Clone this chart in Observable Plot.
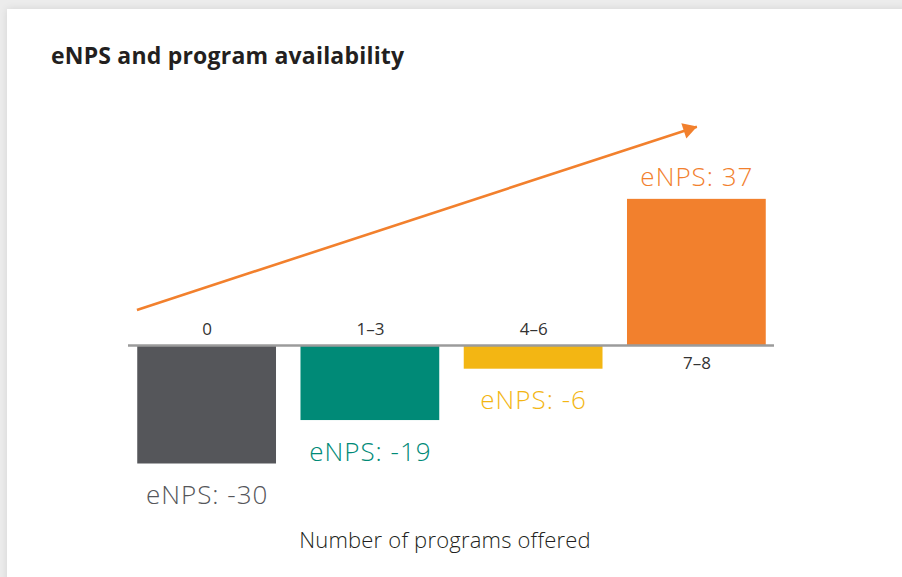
<!DOCTYPE html>
<html>
<head>
<meta charset="utf-8">
<script src="https://cdn.jsdelivr.net/npm/d3@7"></script>
<script src="https://cdn.jsdelivr.net/npm/@observablehq/plot@0.6"></script>
<style>
  html, body { margin: 0; padding: 0; }
  body { width: 902px; height: 577px; background: #ececec; position: relative; overflow: hidden; font-family: 'Open Sans', sans-serif; }
  #card { position: absolute; left: 7px; top: 9px; width: 900px; height: 580px; background: #fff; box-shadow: 0 0 8px rgba(0,0,0,0.10); }
  #title { position: absolute; left: 51px; top: 42px; font-size: 23px; line-height: 26px; font-weight: 700; letter-spacing: 0.2px; color: #231f20; white-space: nowrap; }
  #chart { position: absolute; left: 0; top: 90px; }
  #caption { position: absolute; left: 0; width: 890px; text-align: center; top: 526px; font-size: 22px; line-height: 26px; font-weight: 300; letter-spacing: 0.2px; color: #231f20; }
</style>
</head>
<body>
<div id="card"></div>
<div id="title">eNPS and program availability</div>
<div id="chart"></div>
<div id="caption">Number of programs offered</div>
<script>
const categories = ["0", "1–3", "4–6", "7–8"];
const enps = [-30, -19, -6, 37];
const barColors = ["#55565a", "#008a77", "#f3b613", "#f2802d"];
// trend arrow annotation (x in category index units, y in eNPS units)
const trendStart = [-0.43, 9];
const trendEnd = [3.0, 55.4];

const rows = categories.map((c, i) => ({i, cat: c, v: enps[i]}));
const neg = rows.filter(d => d.v < 0);
const pos = rows.filter(d => d.v >= 0);
const trend = [{x1: trendStart[0], y1: trendStart[1], x2: trendEnd[0], y2: trendEnd[1]}];

const chart = Plot.plot({
  width: 902,
  height: 470,
  marginLeft: 125,
  marginRight: 124,
  marginTop: 18,
  marginBottom: 57,
  style: {fontFamily: "'Open Sans', sans-serif", background: "transparent", overflow: "visible"},
  x: {domain: [-0.5, 3.5], axis: null},
  y: {domain: [-40, 60], axis: null},
  color: {domain: categories, range: barColors},
  marks: [
    Plot.rectY(rows, {x1: d => d.i - 0.425, x2: d => d.i + 0.425, y1: 0, y2: "v", fill: "cat"}),
    Plot.ruleY([0], {stroke: "#9b9b9b", strokeWidth: 2.6, insetLeft: 3, insetRight: 4}),
    Plot.text(neg, {x: "i", y: 0, text: "cat", lineAnchor: "bottom", dy: -11, fontSize: 17, fill: "#333"}),
    Plot.text(pos, {x: "i", y: 0, text: "cat", lineAnchor: "bottom", dy: 23, fontSize: 17, fill: "#333"}),
    Plot.text(neg, {x: "i", y: "v", text: d => `eNPS: ${d.v}`, fill: "cat", lineAnchor: "bottom", dy: 40, fontSize: 26, fontWeight: 300, style: "letter-spacing: 1px"}),
    Plot.text(pos, {x: "i", y: "v", text: d => `eNPS: ${d.v}`, fill: "cat", lineAnchor: "bottom", dy: -13, fontSize: 26, fontWeight: 300}),
    Plot.link(trend, {x1: "x1", y1: "y1", x2: "x2", y2: "y2", stroke: "#f2802d", strokeWidth: 2.6}),
    Plot.dot(trend, {x: "x2", y: "y2", symbol: "triangle", r: 6, fill: "#f2802d", stroke: "none", rotate: 72, dx: -8.6, dy: 2.8})
  ]
});
chart.querySelectorAll("text").forEach(t => {
  if (t.textContent.startsWith("eNPS")) t.setAttribute("letter-spacing", "1");
});
document.getElementById("chart").appendChild(chart);
</script>
</body>
</html>
